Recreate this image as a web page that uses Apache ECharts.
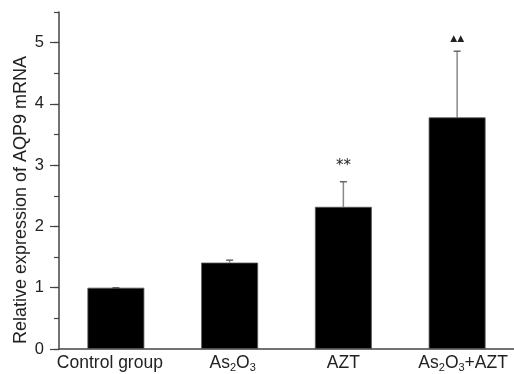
<!DOCTYPE html>
<html>
<head>
<meta charset="utf-8">
<script src="https://cdn.jsdelivr.net/npm/echarts@6/dist/echarts.min.js"></script>
<style>html,body{margin:0;padding:0;background:#fff}#c{width:514px;height:374px}</style>
</head>
<body>
<div id="c"></div>
<script>
var categories = ["Control group", "As2O3", "AZT", "As2O3+AZT"];
var means = [1.0, 1.41, 2.32, 3.78];
var errUpper = [1.0, 1.45, 2.73, 4.86];
var marks = ["", "", "**", "\u25B2\u25B2"];
var yMax = 5.5;
var yLabelMax = 5;

var labelText = {"Control group": "{n|Control group}{sp12|}",
                 "As2O3": "{sp6|}{n|As}{s|2}{n|O}{s|3}",
                 "AZT": "{n|AZT}",
                 "As2O3+AZT": "{sp12|}{n|As}{s|2}{n|O}{s|3}{n|+AZT}"};

var gTop = 12, gBottom = 25, H = 374;
var plotH = H - gTop - gBottom;
var gTop2 = gTop + (yMax - yLabelMax) / yMax * plotH;

var chart = echarts.init(document.getElementById('c'));
chart.setOption({
  animation: false,
  grid: [
    {left: 59, right: 0, top: gTop, bottom: gBottom},
    {left: 59, right: 0, top: gTop2, bottom: gBottom}
  ],
  xAxis: [{
    type: 'category',
    gridIndex: 0,
    data: categories,
    axisLine: {lineStyle: {color: '#444', width: 1.5}},
    axisTick: {show: false},
    axisLabel: {
      interval: 0,
      margin: 5,
      formatter: function (v) { return labelText[v]; },
      rich: {
        n: {fontFamily: 'Liberation Sans', fontSize: 17.5, color: '#222'},
        s: {fontFamily: 'Liberation Sans', fontSize: 11, color: '#222', padding: [8, 0, 0, 0]},
        sp12: {width: 12},
        sp6: {width: 6}
      }
    }
  }, {
    type: 'category', gridIndex: 1, data: categories, show: false
  }],
  yAxis: [{
    type: 'value',
    gridIndex: 0,
    min: 0, max: yMax, interval: 0.5,
    name: '{t|Relative expression of AQP9 mRNA}{sp|}',
    nameLocation: 'middle',
    nameGap: 29,
    nameTextStyle: {
      rich: {
        t: {fontFamily: 'Liberation Sans', fontSize: 18, color: '#222'},
        sp: {width: 39}
      }
    },
    axisLine: {show: true, lineStyle: {color: '#444', width: 1.5}},
    axisTick: {show: true, inside: false, length: 5, lineStyle: {color: '#444', width: 1.2}},
    splitLine: {show: false},
    axisLabel: {show: false}
  }, {
    type: 'value',
    gridIndex: 1,
    min: 0, max: yLabelMax, interval: 1,
    axisLine: {show: false},
    axisTick: {show: true, inside: false, length: 9, lineStyle: {color: '#444', width: 1.2}},
    splitLine: {show: false},
    axisLabel: {
      margin: 15,
      fontFamily: 'Liberation Sans', fontSize: 16.5, color: '#222'
    }
  }],
  series: [
    {
      type: 'bar',
      data: means,
      barWidth: '50%',
      itemStyle: {color: '#000', borderColor: '#555', borderWidth: 0.8},
      z: 2
    },
    {
      type: 'custom',
      z: 1,
      data: categories.map(function (c, i) { return [i, means[i], errUpper[i]]; }),
      renderItem: function (params, api) {
        var i = params.dataIndex;
        var base = api.coord([api.value(0), api.value(1)]);
        var top = api.coord([api.value(0), api.value(2)]);
        var hw = 3.5;
        var isTri = marks[i].indexOf('\u25B2') >= 0;
        return {
          type: 'group',
          children: [
            {type: 'line', shape: {x1: base[0], y1: base[1], x2: top[0], y2: top[1]},
              style: {stroke: '#888', lineWidth: 1.5}},
            {type: 'line', shape: {x1: top[0] - hw, y1: top[1], x2: top[0] + hw, y2: top[1]},
              style: {stroke: '#666', lineWidth: 1.5}},
            {type: 'text', x: top[0], y: top[1] - 8,
              style: {text: marks[i], align: 'center', verticalAlign: 'bottom',
                fontFamily: 'DejaVu Sans', fontSize: isTri ? 9 : 15, fill: '#222'}}
          ]
        };
      }
    }
  ]
});
</script>
</body>
</html>
